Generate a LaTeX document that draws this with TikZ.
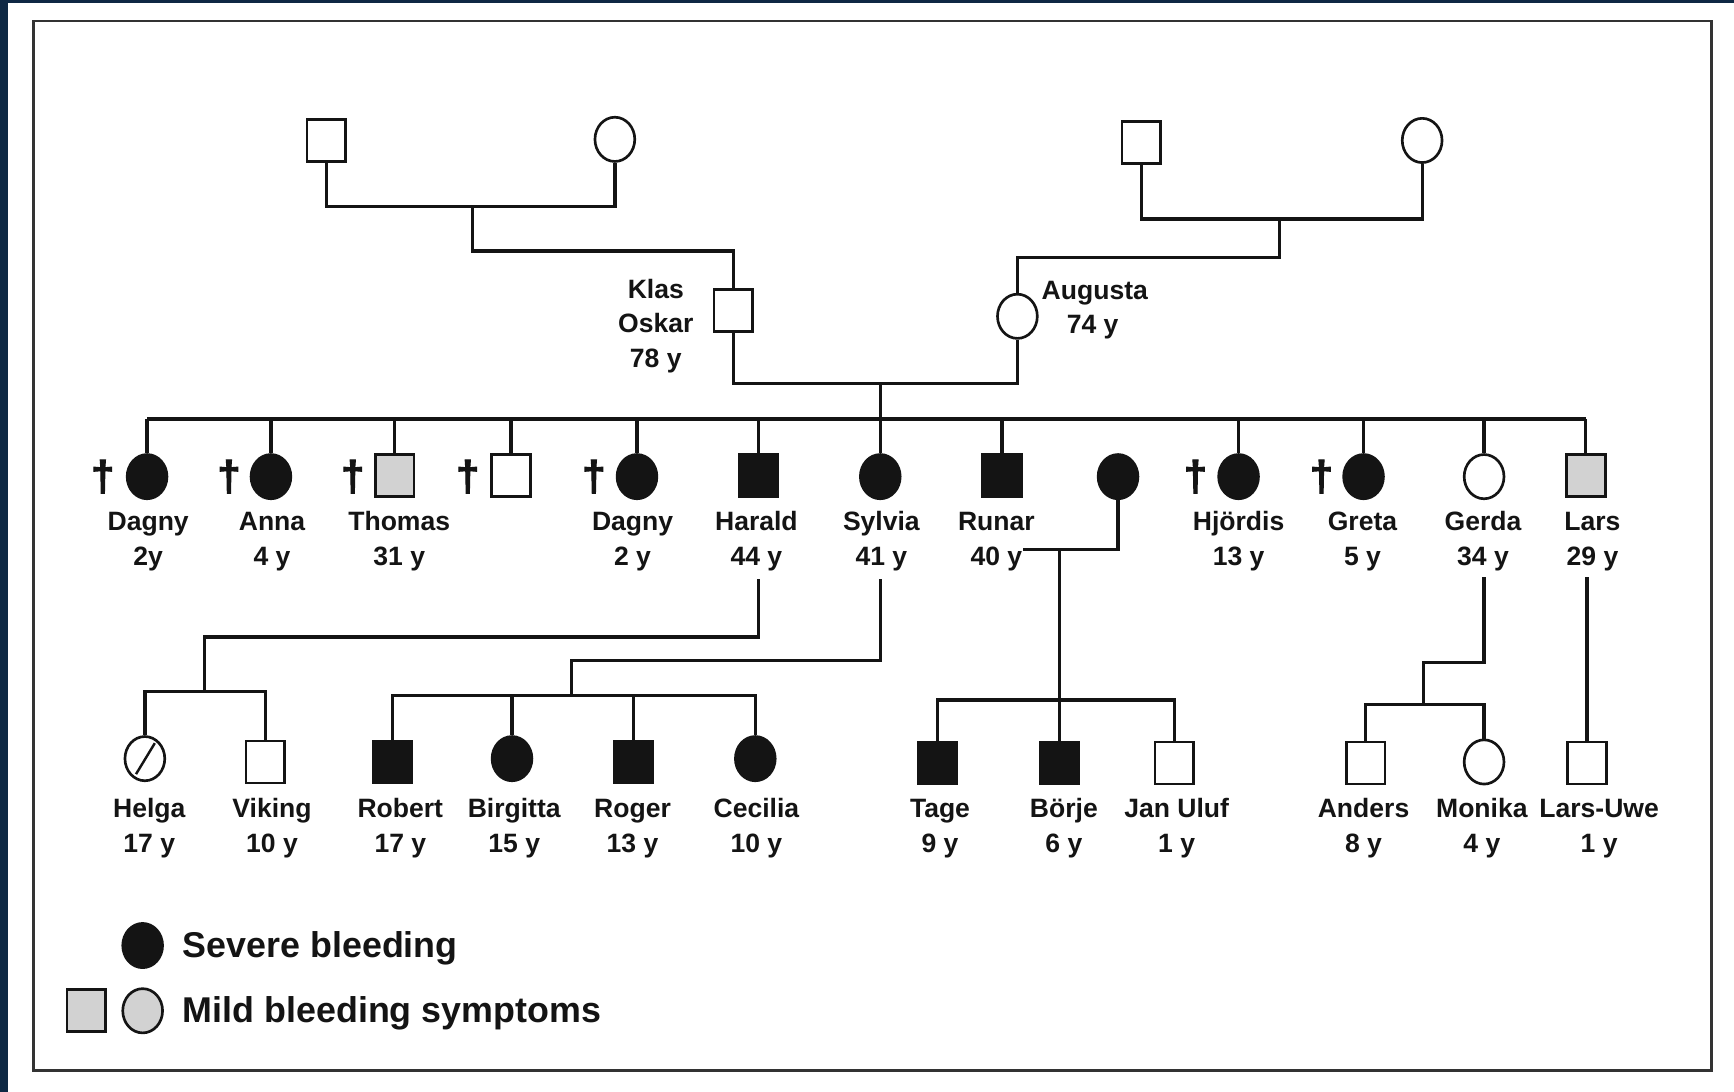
\documentclass[tikz,border=0pt]{standalone}
\usepackage{fontspec}
\setmainfont{Liberation Sans}
\newfontfamily\dagfont{Liberation Sans}[FakeBold=2.5]
\usetikzlibrary{shapes.geometric}
\definecolor{navy}{RGB}{14,40,68}
\definecolor{ink}{RGB}{20,20,20}
\begin{document}
\begin{tikzpicture}[x=0.5pt,y=-0.5pt,
  conn/.style={line width=1.5pt, draw=ink},
  sym/.style={draw=ink, line width=1.2pt, inner sep=0pt, fill=white},
  sq/.style={sym, rectangle, minimum width=17.5pt, minimum height=19pt},
  ci/.style={sym, ellipse, minimum width=18pt, minimum height=20pt},
  aff/.style={fill=ink},
  mild/.style={fill=gray!35},
  lab/.style={font=\fontsize{12}{14}\selectfont\bfseries, text=ink, anchor=base, inner sep=0pt},
  leg/.style={font=\fontsize{16.2}{18}\selectfont\bfseries, text=ink, anchor=base west, inner sep=0pt},
  dag/.style={font=\fontsize{19}{19}\dagfont\bfseries, text=ink, inner sep=0pt},
  frame/.style={draw=black!80, line width=1.3pt}]
% background and frame
\fill[navy] (0,0) rectangle (1568,987);
\fill[white] (7,3) rectangle (1568,987);
\useasboundingbox (0,0) rectangle (1568,987);
\draw[frame] (30,19) rectangle (1548,968);

% ---------- generation I ----------
\node[sq] (gl1) at (295,127) {};
\node[ci] (gl2) at (556,126) {};
\node[sq] (gr1) at (1032,129) {};
\node[ci] (gr2) at (1286,127) {};

\node[sq] (kl) at (663,281) {};
\node[ci] (au) at (920,286) {};
\node[lab] (klA) at (593,270) {Klas};
\node[lab] (klB) at (593,301) {Oskar};
\node[lab] (klC) at (593,332) {78 y};
\node[lab] (auA) at (990,271) {Augusta};
\node[lab] (auB) at (988,302) {74 y};

\coordinate (gm1) at (427,187);
\coordinate (gk1) at (427,227);
\coordinate (gm2) at (1157,198);
\coordinate (gk2) at (1157,233);
\coordinate (cpl) at (796,347);
\coordinate (sib) at (796,379);

\draw[conn] (gl1.south) -- (gl1.south |- gm1) -- (gl2.south |- gm1) -- (gl2.south);
\draw[conn] (gm1) -- (gk1) -| (kl.north);
\draw[conn] (gr1.south) -- (gr1.south |- gm2) -- (gr2.south |- gm2) -- (gr2.south);
\draw[conn] (gm2) -- (gk2) -| (au.north);
\draw[conn] (kl.south) -- (kl.south |- cpl) -- (au.south |- cpl) -- (au.south);
\draw[conn] (cpl) -- (sib);

% ---------- generation II ----------
\node[ci,aff] (c1) at (133,431) {};
\node[ci,aff] (c2) at (245,431) {};
\node[sq,mild] (c3) at (357,430) {};
\node[sq] (c4) at (462,430) {};
\node[ci,aff] (c5) at (576,431) {};
\node[sq,aff] (c6) at (686,430) {};
\node[ci,aff] (c7) at (796,431) {};
\node[sq,aff] (c8) at (906,430) {};
\node[ci,aff] (sp) at (1011,431) {};
\node[ci,aff] (c9) at (1120,431) {};
\node[ci,aff] (c10) at (1233,431) {};
\node[ci] (c11) at (1342,431) {};
\node[sq,mild] (c12) at (1434,430) {};

\node[dag] (d1) at (93,431) {†};
\node[dag] (d2) at (207,431) {†};
\node[dag] (d3) at (319,431) {†};
\node[dag] (d4) at (423,431) {†};
\node[dag] (d5) at (537,431) {†};
\node[dag] (d9) at (1081,431) {†};
\node[dag] (d10) at (1195,431) {†};

\draw[conn] (c1.north |- sib) -- (c12.north |- sib);
\foreach \c in {c1,c2,c3,c4,c5,c6,c7,c8,c9,c10,c11,c12}
  \draw[conn] (\c.north) -- (\c.north |- sib);

\node[lab] (n1) at (134,480) {Dagny};   \node[lab] (a1) at (134,511) {2y};
\node[lab] (n2) at (246,480) {Anna};    \node[lab] (a2) at (246,511) {4 y};
\node[lab] (n3) at (361,480) {Thomas};  \node[lab] (a3) at (361,511) {31 y};
\node[lab] (n5) at (572,480) {Dagny};   \node[lab] (a5) at (572,511) {2 y};
\node[lab] (n6) at (684,480) {Harald};  \node[lab] (a6) at (684,511) {44 y};
\node[lab] (n7) at (797,480) {Sylvia};  \node[lab] (a7) at (797,511) {41 y};
\node[lab] (n8) at (901,480) {Runar};   \node[lab] (a8) at (901,511) {40 y};
\node[lab] (n9) at (1120,480) {Hjördis};\node[lab] (a9) at (1120,511) {13 y};
\node[lab] (n10) at (1232,480) {Greta}; \node[lab] (a10) at (1232,511) {5 y};
\node[lab] (n11) at (1341,480) {Gerda}; \node[lab] (a11) at (1341,511) {34 y};
\node[lab] (n12) at (1440,480) {Lars};  \node[lab] (a12) at (1440,511) {29 y};

% ---------- generation III ----------
\node[ci] (helga) at (131,686) {};
\node[sq] (viking) at (240,689) {};
\node[sq,aff] (robert) at (355,689) {};
\node[ci,aff] (birgitta) at (463,686) {};
\node[sq,aff] (roger) at (573,689) {};
\node[ci,aff] (cecilia) at (683,686) {};
\node[sq,aff] (tage) at (848,690) {};
\node[sq,aff] (borje) at (958,690) {};
\node[sq] (janu) at (1062,690) {};
\node[sq] (anders) at (1235,690) {};
\node[ci] (monika) at (1342,689) {};
\node[sq] (larsuwe) at (1435,690) {};
\draw[draw=ink, line width=1.1pt] ([shift={(-8,14)}]helga.center) -- ([shift={(9,-14)}]helga.center);

% Harald's children
\coordinate (hs) at (686,524);
\coordinate (hb) at (185,576);
\coordinate (hk) at (185,625);
\draw[conn] (hs) |- (hb) -- (hk);
\draw[conn] (helga.north) |- (hk) -| (viking.north);

% Sylvia's children
\coordinate (ss) at (796,524);
\coordinate (sb) at (517,597);
\coordinate (sk) at (517,629);
\draw[conn] (ss) |- (sb) -- (sk);
\draw[conn] (robert.north) |- (sk) -| (cecilia.north);
\draw[conn] (birgitta.north) -- (birgitta.north |- sk);
\draw[conn] (roger.north) -- (roger.north |- sk);

% Runar's children
\coordinate (re) at (925,497);
\coordinate (rm) at (958,497);
\coordinate (rk) at (958,633);
\draw[conn] (sp.south) |- (re);
\draw[conn] (rm) -- (rk);
\draw[conn] (tage.north) |- (rk) -| (janu.north);
\draw[conn] (borje.north) -- (borje.north |- rk);

% Gerda's children
\coordinate (gs) at (1342,522);
\coordinate (gb) at (1287,599);
\coordinate (gk) at (1287,637);
\draw[conn] (gs) |- (gb) -- (gk);
\draw[conn] (anders.north) |- (gk) -| (monika.north);

% Lars's child
\coordinate (ls) at (1435,522);
\draw[conn] (ls) -- (larsuwe.north);

\node[lab] (m1) at (135,739) {Helga};     \node[lab] (b1) at (135,771) {17 y};
\node[lab] (m2) at (246,739) {Viking};    \node[lab] (b2) at (246,771) {10 y};
\node[lab] (m3) at (362,739) {Robert};    \node[lab] (b3) at (362,771) {17 y};
\node[lab] (m4) at (465,739) {Birgitta};  \node[lab] (b4) at (465,771) {15 y};
\node[lab] (m5) at (572,739) {Roger};     \node[lab] (b5) at (572,771) {13 y};
\node[lab] (m6) at (684,739) {Cecilia};   \node[lab] (b6) at (684,771) {10 y};
\node[lab] (m7) at (850,739) {Tage};      \node[lab] (b7) at (850,771) {9 y};
\node[lab] (m8) at (962,739) {Börje};     \node[lab] (b8) at (962,771) {6 y};
\node[lab] (m9) at (1064,739) {Jan Uluf}; \node[lab] (b9) at (1064,771) {1 y};
\node[lab] (m10) at (1233,739) {Anders};  \node[lab] (b10) at (1233,771) {8 y};
\node[lab] (m11) at (1340,739) {Monika};  \node[lab] (b11) at (1340,771) {4 y};
\node[lab] (m12) at (1446,739) {Lars-Uwe};\node[lab] (b12) at (1446,771) {1 y};

% ---------- legend ----------
\node[ci,aff] (lg1) at (129,855) {};
\node[sq,mild] (lg2) at (78,914) {};
\node[ci,mild] (lg3) at (129,914) {};
\node[leg] (lt1) at (165,866) {Severe bleeding};
\node[leg] (lt2) at (165,925) {Mild bleeding symptoms};
\end{tikzpicture}
\end{document}
